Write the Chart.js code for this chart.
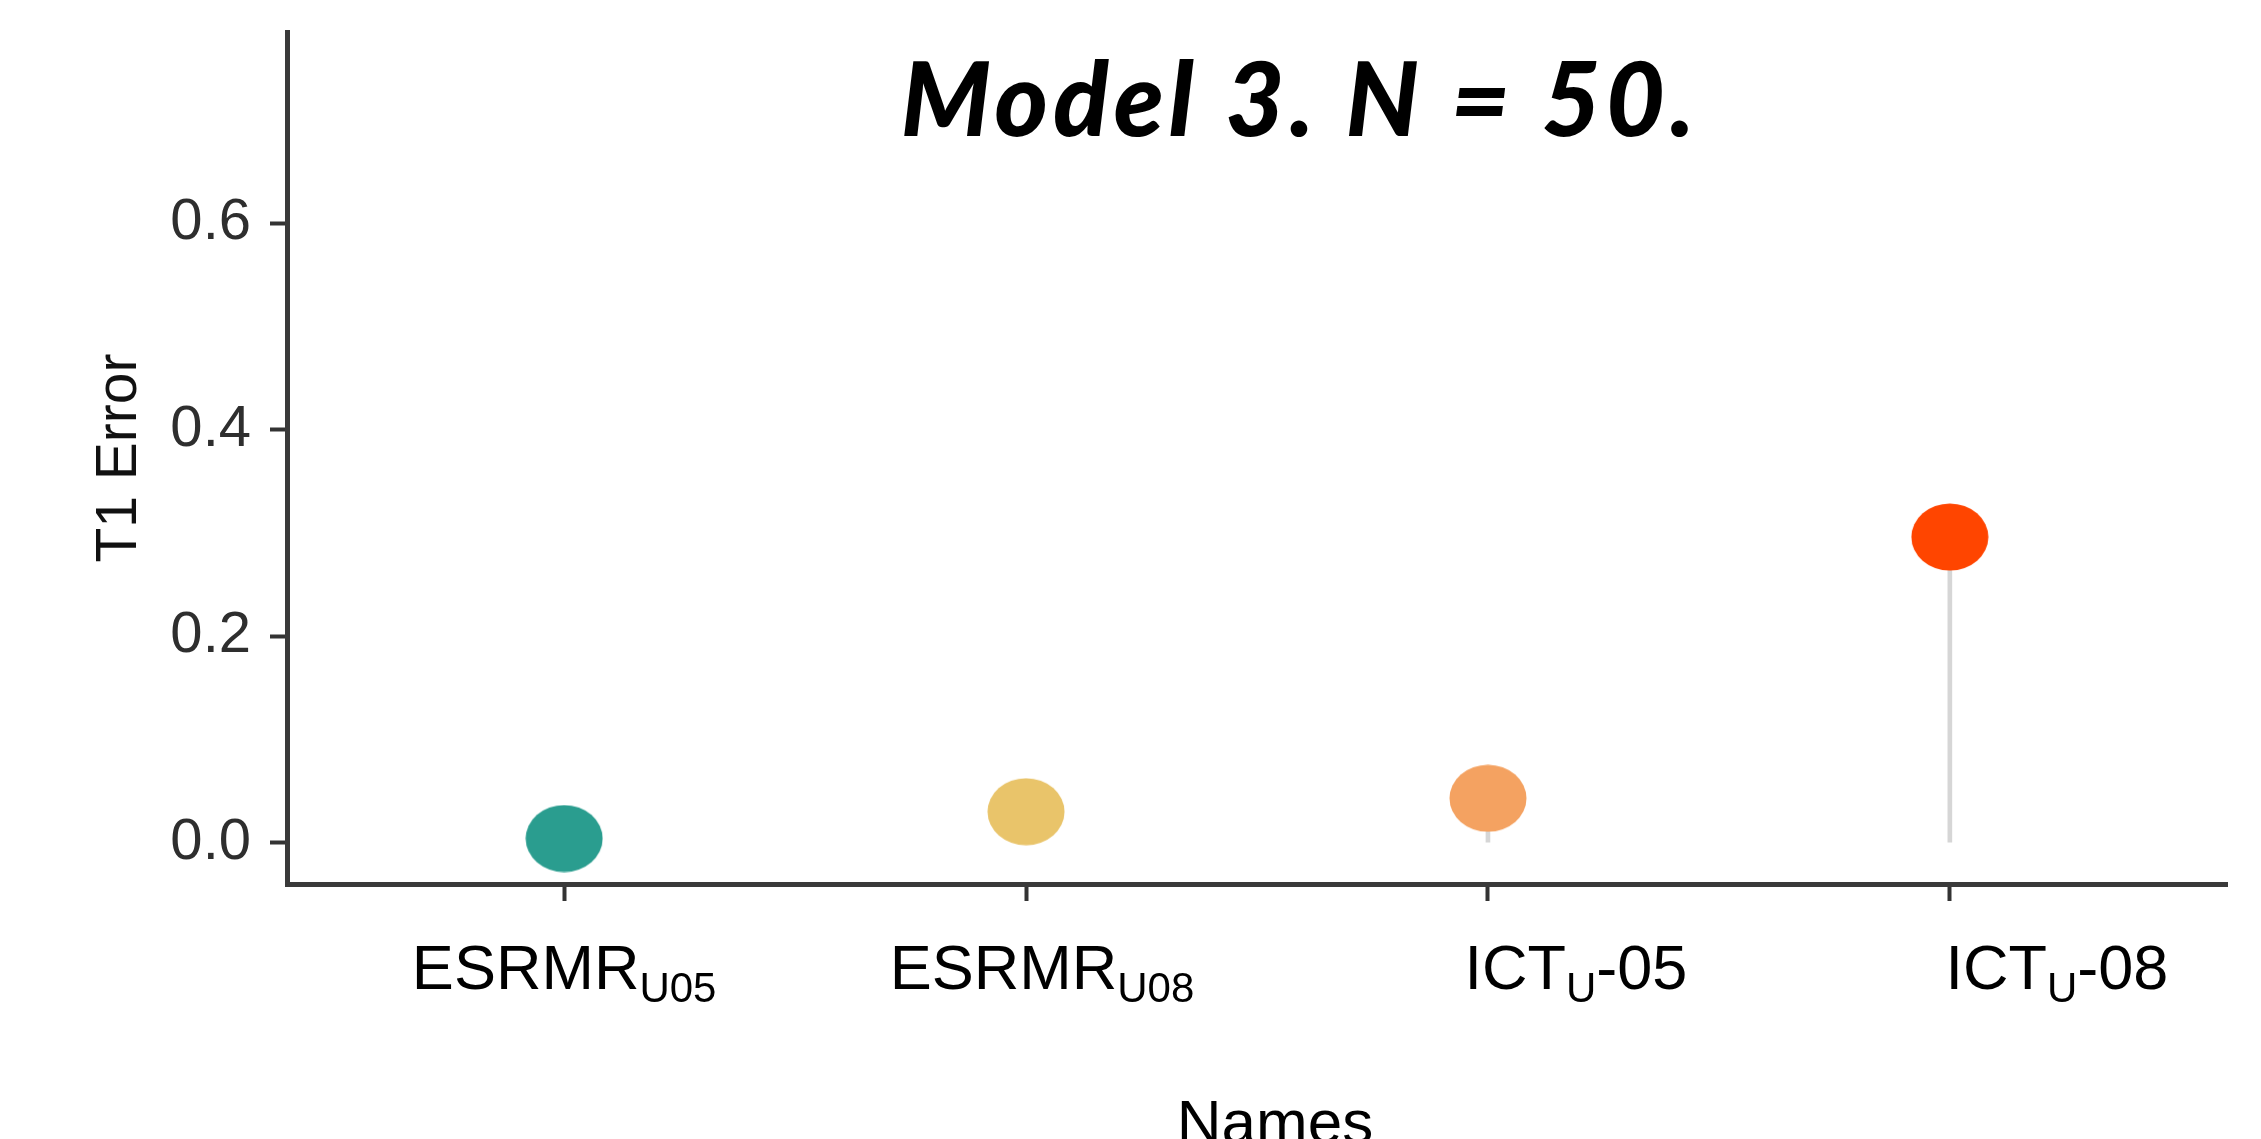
<!DOCTYPE html>
<html>
<head>
<meta charset="utf-8">
<script src="https://cdn.jsdelivr.net/npm/chart.js@4.4.1/dist/chart.umd.min.js"></script>
<style>
  body { margin: 0; background: #fff; }
  #wrap { width: 2261px; height: 1139px; }
</style>
</head>
<body>
<div id="wrap"><canvas id="lollipop" width="2261" height="1139"></canvas></div>
<script>
// label = main part + subscript part + tail
const nameMain = ["ESRMR", "ESRMR", "ICT", "ICT"];
const nameSub = ["U05", "U08", "U", "U"];
const nameTail = ["", "", "-05", "-08"];
const t1Error = [0.004, 0.030, 0.043, 0.296];
const yTicks = [0, 0.2, 0.4, 0.6];

const pointColors = ["#2A9D8F", "#E9C46A", "#F4A261", "#FF4500"];
const labelShift = [0, 16, 88, 107]; // ggplot puts the plotmath labels off-centre

const FONT = "'Liberation Sans', Arial, sans-serif";

function makeDot(color) {
  // points are slightly wider than tall in the original
  const c = document.createElement("canvas");
  c.width = 78;
  c.height = 68;
  const g = c.getContext("2d");
  g.fillStyle = color;
  g.beginPath();
  g.ellipse(39, 34, 38.5, 33.5, 0, 0, Math.PI * 2);
  g.fill();
  return c;
}

const dots = pointColors.map(makeDot);
const points = t1Error.map((v, i) => ({ x: i, y: v }));

const labelPlugin = {
  id: "labels",
  afterDraw(chart) {
    const ctx = chart.ctx;
    const xs = chart.scales.x;
    ctx.save();
    ctx.fillStyle = "#000";
    ctx.textBaseline = "alphabetic";
    ctx.textAlign = "left";

    nameMain.forEach((main, i) => {
      ctx.font = "63px " + FONT;
      const wMain = ctx.measureText(main).width;
      const wTail = ctx.measureText(nameTail[i]).width;
      ctx.font = "42px " + FONT;
      const wSub = ctx.measureText(nameSub[i]).width;
      let x = xs.getPixelForValue(i) + labelShift[i] - (wMain + wSub + wTail) / 2;
      ctx.font = "63px " + FONT;
      ctx.fillText(main, x, 989);
      x += wMain;
      ctx.font = "42px " + FONT;
      ctx.fillText(nameSub[i], x, 1002);
      x += wSub;
      ctx.font = "63px " + FONT;
      ctx.fillText(nameTail[i], x, 989);
    });

    // x axis title, cut by the bottom edge like the original
    ctx.font = "62px " + FONT;
    ctx.textAlign = "center";
    ctx.fillText("Names", 1275, 1143);

    // title sits inside the plot area
    ctx.font = "italic 900 102px Lato, 'DejaVu Sans', sans-serif";
    ctx.letterSpacing = "5px";
    ctx.fillText("Model 3. N = 50.", 1300, 136);
    ctx.restore();
  },
};

new Chart(document.getElementById("lollipop"), {
  type: "scatter",
  data: {
    datasets: [
      {
        label: "T1 Error",
        data: points,
        pointStyle: dots,
        order: 0,
      },
      {
        type: "bar",
        label: "stem",
        data: points,
        backgroundColor: "#d6d6d6",
        barThickness: 4,
        order: 1,
      },
    ],
  },
  options: {
    responsive: false,
    animation: false,
    layout: { padding: { top: 32, right: 34, left: 0, bottom: 0 } },
    plugins: {
      legend: { display: false },
      tooltip: { enabled: false },
    },
    scales: {
      x: {
        type: "linear",
        offset: false,
        min: -0.6,
        max: 3.6,
        afterBuildTicks: (s) => {
          s.ticks = nameMain.map((_, i) => ({ value: i }));
        },
        afterFit: (s) => {
          s.height = 255;
          s.paddingLeft = 0;
          s.paddingRight = 0;
        },
        ticks: { display: false },
        grid: {
          offset: false,
          drawOnChartArea: false,
          tickLength: 17,
          tickColor: "#333",
          tickWidth: 4,
        },
        border: { color: "#3a3a3a", width: 5 },
      },
      y: {
        min: -0.04,
        max: 0.785,
        afterBuildTicks: (s) => {
          s.ticks = yTicks.map((v) => ({ value: v }));
        },
        afterFit: (s) => {
          s.width = 287;
          s.paddingTop = 0;
          s.paddingBottom = 0;
        },
        ticks: {
          padding: 19,
          color: "#2e2e2e",
          font: { family: FONT, size: 58 },
          callback: (v) => v.toFixed(1),
        },
        grid: {
          drawOnChartArea: false,
          tickLength: 17,
          tickColor: "#333",
          tickWidth: 4,
        },
        border: { color: "#3a3a3a", width: 5 },
        title: {
          display: true,
          text: "T1 Error",
          color: "#111",
          font: { family: FONT, size: 57 },
          padding: { top: 86 },
        },
      },
    },
  },
  plugins: [labelPlugin],
});
</script>
</body>
</html>
